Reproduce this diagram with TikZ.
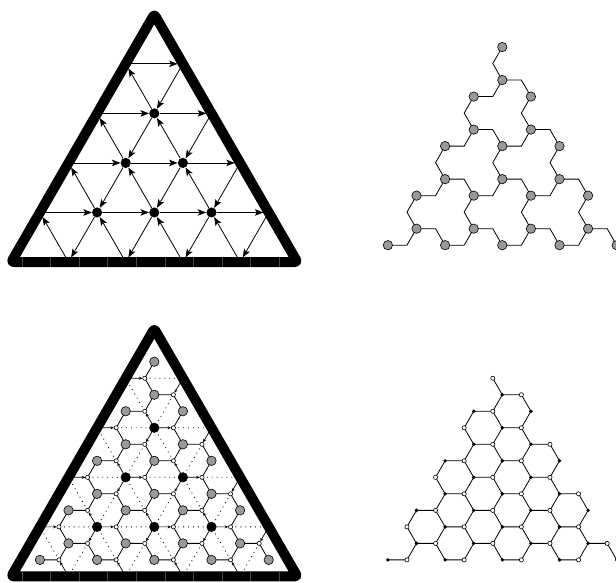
\documentclass[tikz,border=0pt]{standalone}
\usetikzlibrary{arrows.meta,calc}
\newcommand\LatA{57.2}
\newcommand\LatH{49.54}
% loop over the 30 interior directed edges of the side-5 triangular lattice
\newcommand\foredges[1]{%
 \foreach \r in {1,...,4}{%
  \pgfmathtruncatemacro\myRm{\r-1}%
  \pgfmathtruncatemacro\myRp{\r+1}%
  \foreach \k in {0,...,\myRm}{%
    \pgfmathtruncatemacro\myKp{\k+1}%
    \edef\tr{\r}\edef\tk{\k}\edef\hr{\r}\edef\hk{\myKp}%
    \edef\ga{U-\myRm-\k}\edef\gb{D-\r-\k}\edef\wn{h-\r-\k}%
    \pgfmathtruncatemacro\gtop{\r==1}%
    #1}%
  \foreach \k in {1,...,\r}{%
    \pgfmathtruncatemacro\myKm{\k-1}%
    \edef\tr{\r}\edef\tk{\k}\edef\hr{\myRp}\edef\hk{\k}%
    \edef\ga{U-\r-\k}\edef\gb{D-\r-\myKm}\edef\wn{d-\r-\k}%
    \def\gtop{0}%
    #1}%
  \foreach \k in {0,...,\myRm}{%
    \pgfmathtruncatemacro\myKp{\k+1}%
    \edef\tr{\myRp}\edef\tk{\myKp}\edef\hr{\r}\edef\hk{\k}%
    \edef\ga{U-\r-\k}\edef\gb{D-\r-\k}\edef\wn{u-\r-\k}%
    \def\gtop{0}%
    #1}%
 }}
% lattice points, triangle centroids and 1/3 points of interior edges
\newcommand\mklattice[3]{%
 \foreach \r in {0,...,5}{\foreach \k in {0,...,\r}{%
   \coordinate (#1P-\r-\k) at ({#2+(\k-\r/2)*\LatA},{#3+\r*\LatH});}}%
 \foreach \r in {0,...,4}{\foreach \k in {0,...,\r}{%
   \coordinate (#1U-\r-\k) at ($(#1P-\r-\k)+(0,{2*\LatH/3})$);}}%
 \foreach \r in {1,...,4}{\pgfmathtruncatemacro\myRm{\r-1}\foreach \k in {0,...,\myRm}{%
   \coordinate (#1D-\r-\k) at ($(#1P-\r-\k)+({\LatA/2},{\LatH/3})$);}}%
 \foredges{\coordinate (#1W-\wn) at ($(#1P-\tr-\tk)!1/3!(#1P-\hr-\hk)$);}%
}
\newcommand\grays[3]{%
 \foreach \r in {0,...,4}{\foreach \k in {0,...,\r}{%
   \pgfmathtruncatemacro\skipit{#3*(\r==0)}%
   \ifnum\skipit=0 \node[#2] (#1GU-\r-\k) at (#1U-\r-\k) {};\fi}}%
 \foreach \r in {1,...,4}{\pgfmathtruncatemacro\myRm{\r-1}\foreach \k in {0,...,\myRm}{%
   \node[#2] (#1GD-\r-\k) at (#1D-\r-\k) {};}}%
}
\newcommand\interior[2]{%
 \foreach \r in {2,3,4}{\pgfmathtruncatemacro\myRm{\r-1}\foreach \k in {1,...,\myRm}{%
   \node[#2] (#1N-\r-\k) at (#1P-\r-\k) {};}}%
}
\newcommand\border[1]{%
 \draw[bd] (#1P-0-0) -- (#1P-5-0) -- (#1P-5-5) -- cycle;
 \foreach \i in {0,...,9}{\draw[tick] ($(#1P-5-0)+({10.4+28.6*\i},-5)$) -- ++(0,10);}%
}
\tikzset{
 bd/.style={line width=10pt, line join=round, rounded corners=2.5pt},
 tick/.style={line width=0.4pt, draw=black!72},
 bignode/.style={circle, inner sep=0pt, minimum size=9.4pt, draw=black, line width=0.6pt},
 blk/.style={bignode, fill=black},
 gry/.style={bignode, fill=black!40},
 wht/.style={circle, inner sep=0pt, minimum size=4.2pt, fill=white, draw=black, line width=0.6pt},
 sdot/.style={circle, inner sep=0pt, minimum size=3.8pt, fill=black},
 bigarrow/.style={line width=0.8pt, -{Stealth[length=8.5pt,width=6.5pt,inset=2pt]}, shorten >=5.3pt, shorten <=5.3pt},
 smallarrow/.style={line width=0.7pt, -{Stealth[length=3.5pt,width=3pt]}, shorten >=2.3pt},
 dotl/.style={line width=0.8pt, dash pattern=on 0.9pt off 4pt},
 hedge/.style={line width=0.8pt},
}
\begin{document}
\begin{tikzpicture}[x=1pt,y=-1pt]
\useasboundingbox (0,0) rectangle (616,582);
\fill[white] (0,0) rectangle (616,582);
\clip (0,0) rectangle (616,582);
% ---------------- top left: directed triangular lattice
\mklattice{T}{154.3}{14.3}
\foredges{\draw[bigarrow] (TP-\tr-\tk) -- (TP-\hr-\hk);}
\interior{T}{blk}
\border{T}
% ---------------- bottom left: lattice with honeycomb
\mklattice{B}{154.3}{328.7}
\foredges{%
 \draw[dotl] (BW-\wn) -- (BP-\hr-\hk);
 \draw[hedge] (B\ga) -- (BW-\wn) -- (B\gb);
 \draw[smallarrow] (BP-\tr-\tk) -- (BW-\wn);}
\grays{B}{gry}{0}
\interior{B}{blk}
\foredges{\node[wht] (BWN-\wn) at (BW-\wn) {};}
\border{B}
% ---------------- top right: graph of triangle centres
\mklattice{R}{502.3}{14}
\foredges{\draw[hedge] (R\ga) -- (RW-\wn) -- (R\gb);}
\grays{R}{gry}{0}
% ---------------- bottom right: honeycomb
\mklattice{S}{502.3}{328.7}
\foredges{%
 \draw[hedge] (SW-\wn) -- (S\gb);
 \ifnum\gtop=0 \draw[hedge] (SW-\wn) -- (S\ga);\fi
 \pgfmathtruncatemacro\tint{(\tk>0)*(\tk<\tr)*(\tr<5)}%
 \ifnum\tint=1 \draw[hedge] (SP-\tr-\tk) -- (SW-\wn);\fi}
\grays{S}{sdot}{1}
\interior{S}{sdot}
\foredges{\node[wht] (SWN-\wn) at (SW-\wn) {};}
\end{tikzpicture}
\end{document}
